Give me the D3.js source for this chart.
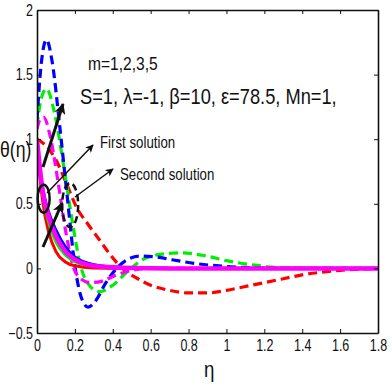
<!DOCTYPE html>
<html>
  <head>
    <meta charset="utf-8">
    <script src="https://d3js.org/d3.v7.min.js"></script>
    <style>
      body { margin: 0; background: #fff; }
      text { font-family: "Liberation Sans", Arial, sans-serif; fill: #111; }
    </style>
  </head>
  <body>
    <script>

      // tick values
      var xTicks = [0, 0.2, 0.4, 0.6, 0.8, 1, 1.2, 1.4, 1.6, 1.8];
      var yTicks = [-0.5, 0, 0.5, 1, 1.5, 2];

      // first solution (solid) curves
      var etaSolid = [0, 0.015, 0.03, 0.06, 0.1, 0.15, 0.2, 0.3, 0.45, 0.7, 1.0, 1.8];
      var redSolid = [1.0, 0.72, 0.52, 0.29, 0.13, 0.05, 0.02, 0.003, 0, 0, 0, 0];
      var greenSolid = [1.0, 0.76, 0.57, 0.36, 0.2, 0.1, 0.05, 0.015, 0.003, 0, 0, 0];
      var blueSolid = [1.0, 0.8, 0.63, 0.45, 0.3, 0.17, 0.09, 0.03, 0.008, 0.002, 0, 0];
      var magentaSolid = [1.0, 0.78, 0.6, 0.41, 0.25, 0.13, 0.07, 0.02, 0.005, 0, 0, 0];

      // second solution (dashed) curves
      var etaBlue = [0, 0.02, 0.05, 0.08, 0.12, 0.16, 0.2, 0.24, 0.27, 0.31, 0.36, 0.42, 0.48, 0.54, 0.62, 0.72, 0.85, 1.0, 1.15, 1.3, 1.8];
      var blueDash = [1.15, 1.55, 1.77, 1.6, 1.1, 0.55, 0.02, -0.25, -0.3, -0.25, -0.12, 0.0, 0.07, 0.095, 0.09, 0.065, 0.035, 0.015, 0.005, 0, 0];
      var etaGreen = [0, 0.02, 0.05, 0.09, 0.14, 0.19, 0.23, 0.27, 0.33, 0.4, 0.48, 0.56, 0.66, 0.76, 0.88, 1.0, 1.15, 1.3, 1.8];
      var greenDash = [1.1, 1.3, 1.39, 1.22, 0.8, 0.33, 0.02, -0.12, -0.18, -0.13, -0.02, 0.07, 0.11, 0.12, 0.1, 0.06, 0.025, 0.005, 0];
      var etaMagenta = [0, 0.015, 0.035, 0.07, 0.11, 0.15, 0.19, 0.23, 0.28, 0.34, 0.42, 0.5, 0.6, 0.8, 1.8];
      var magentaDash = [1.08, 1.15, 1.17, 1.02, 0.68, 0.3, 0.02, -0.08, -0.11, -0.1, -0.05, -0.015, 0, 0, 0];
      var etaRed = [0, 0.04, 0.1, 0.16, 0.21, 0.27, 0.33, 0.39, 0.45, 0.52, 0.6, 0.7, 0.8, 0.9, 1.0, 1.1, 1.2, 1.3, 1.4, 1.5, 1.6, 1.7, 1.8];
      var redDash = [1.0, 0.96, 0.84, 0.64, 0.47, 0.34, 0.22, 0.1, 0.0, -0.07, -0.13, -0.17, -0.19, -0.19, -0.17, -0.14, -0.11, -0.08, -0.05, -0.03, -0.015, -0.005, 0];

      var w = 392;
      var h = 388;
      var padL = 37, padR = 378, padT = 10, padB = 333;

      var svg = d3.select("body")
        .append("svg")
        .attr("width", w)
        .attr("height", h);

      var xScale = d3.scaleLinear().domain([0, 1.8]).range([padL, padR]);
      var yScale = d3.scaleLinear().domain([-0.5, 2]).range([padB, padT]);

      // squeeze a text horizontally, the original uses a narrow font
      function narrow(sel, factor) {
        sel.each(function() {
          var len = this.getComputedTextLength();
          d3.select(this).attr("textLength", len * factor).attr("lengthAdjust", "spacingAndGlyphs");
        });
      }

      // clip the curves to the plot box
      svg.append("clipPath").attr("id", "box")
        .append("rect")
        .attr("x", padL).attr("y", padT)
        .attr("width", padR - padL).attr("height", padB - padT);

      var line = d3.line()
        .x(function(d) { return xScale(d[0]); })
        .y(function(d) { return yScale(d[1]); })
        .curve(d3.curveMonotoneX);

      function zipCurve(xs, ys) {
        return xs.map(function(x, i) { return [x, ys[i]]; });
      }

      var curves = svg.append("g").attr("clip-path", "url(#box)");

      // dashed (second solution) curves
      [[etaRed, redDash, "#ff0000"], [etaGreen, greenDash, "#00ee00"],
       [etaBlue, blueDash, "#0000ff"], [etaMagenta, magentaDash, "#ff00ff"]].forEach(function(c) {
        curves.append("path")
          .attr("d", line(zipCurve(c[0], c[1])))
          .attr("fill", "none")
          .attr("stroke", c[2])
          .attr("stroke-width", 3.2)
          .attr("stroke-dasharray", "9,5");
      });

      // solid (first solution) curves
      [[redSolid, "#ff0000", 3], [greenSolid, "#00ee00", 2.5],
       [blueSolid, "#0000ff", 2.5], [magentaSolid, "#ff00ff", 4.5]].forEach(function(c) {
        curves.append("path")
          .attr("d", line(zipCurve(etaSolid, c[0])))
          .attr("fill", "none")
          .attr("stroke", c[1])
          .attr("stroke-width", c[2]);
      });

      // axes box with inward ticks on all sides
      var xAxisB = d3.axisBottom(xScale).tickValues(xTicks).tickSizeInner(-4).tickSizeOuter(0)
        .tickFormat(d3.format("~g")).tickPadding(7);
      var xAxisT = d3.axisTop(xScale).tickValues(xTicks).tickSizeInner(-4).tickSizeOuter(0)
        .tickFormat("");
      var yAxisL = d3.axisLeft(yScale).tickValues(yTicks).tickSizeInner(-4).tickSizeOuter(0)
        .tickFormat(d3.format("~g")).tickPadding(4);
      var yAxisR = d3.axisRight(yScale).tickValues(yTicks).tickSizeInner(-4).tickSizeOuter(0)
        .tickFormat("");

      function styleAxis(g) {
        g.selectAll(".domain").attr("stroke", "#111").attr("stroke-width", 1.6);
        g.selectAll(".tick line").attr("stroke", "#111").attr("stroke-width", 1);
        g.selectAll(".tick text").attr("font-size", 16)
          .attr("font-family", "'Liberation Sans', Arial, sans-serif")
          .attr("fill", "#111")
          .call(narrow, 0.78);
      }

      svg.append("g").attr("transform", "translate(0," + padB + ")").call(xAxisB).call(styleAxis);
      svg.append("g").attr("transform", "translate(0," + padT + ")").call(xAxisT).call(styleAxis);
      svg.append("g").attr("transform", "translate(" + padL + ",0)").call(yAxisL).call(styleAxis);
      svg.append("g").attr("transform", "translate(" + padR + ",0)").call(yAxisR).call(styleAxis);

      // axis titles
      svg.append("text")
        .attr("x", 0).attr("y", 157)
        .attr("font-size", 22)
        .text("θ(η)")
        .call(narrow, 0.8);

      svg.append("text")
        .attr("x", 204).attr("y", 377)
        .attr("font-size", 22)
        .text("η")
        .call(narrow, 0.85);

      // annotations
      svg.append("text").attr("x", 88).attr("y", 70).attr("font-size", 19)
        .text("m=1,2,3,5").call(narrow, 0.82);
      svg.append("text").attr("x", 80).attr("y", 104).attr("font-size", 22)
        .text("S=1, λ=-1, β=10, ε=78.5, Mn=1,").call(narrow, 0.83);
      svg.append("text").attr("x", 100).attr("y", 148).attr("font-size", 17)
        .text("First solution").call(narrow, 0.78);
      svg.append("text").attr("x", 120).attr("y", 180).attr("font-size", 17)
        .text("Second solution").call(narrow, 0.78);

      // arrow heads
      var defs = svg.append("defs");
      defs.append("marker").attr("id", "head")
        .attr("viewBox", "0 0 10 10").attr("refX", 9).attr("refY", 5)
        .attr("markerWidth", 9).attr("markerHeight", 8).attr("orient", "auto")
        .attr("markerUnits", "userSpaceOnUse")
        .append("path").attr("d", "M0,0 L10,5 L0,10 L2.5,5 z").attr("fill", "#111");
      defs.append("marker").attr("id", "headBig")
        .attr("viewBox", "0 0 10 10").attr("refX", 9).attr("refY", 5)
        .attr("markerWidth", 12).attr("markerHeight", 11).attr("orient", "auto")
        .attr("markerUnits", "userSpaceOnUse")
        .append("path").attr("d", "M0,0 L10,5 L0,10 L2.5,5 z").attr("fill", "#111");

      var arrows = [
        [43, 167, 63, 104, 3, "headBig"],
        [43, 247, 62, 203, 3, "headBig"],
        [47, 193, 93, 145, 1.5, "head"],
        [75, 197, 113, 169, 1.5, "head"]
      ];
      arrows.forEach(function(a) {
        svg.append("line")
          .attr("x1", a[0]).attr("y1", a[1]).attr("x2", a[2]).attr("y2", a[3])
          .attr("stroke", "#111").attr("stroke-width", a[4])
          .attr("marker-end", "url(#" + a[5] + ")");
      });

      // ellipses marking the two solution families
      svg.append("ellipse")
        .attr("cx", xScale(0.035)).attr("cy", yScale(0.54))
        .attr("rx", 6).attr("ry", 14)
        .attr("fill", "none").attr("stroke", "#111").attr("stroke-width", 2.5);
      svg.append("ellipse")
        .attr("cx", xScale(0.175)).attr("cy", yScale(0.49))
        .attr("rx", 8).attr("ry", 22)
        .attr("fill", "none").attr("stroke", "#111").attr("stroke-width", 2.5)
        .attr("stroke-dasharray", "7,4");

    </script>
  </body>
</html>
